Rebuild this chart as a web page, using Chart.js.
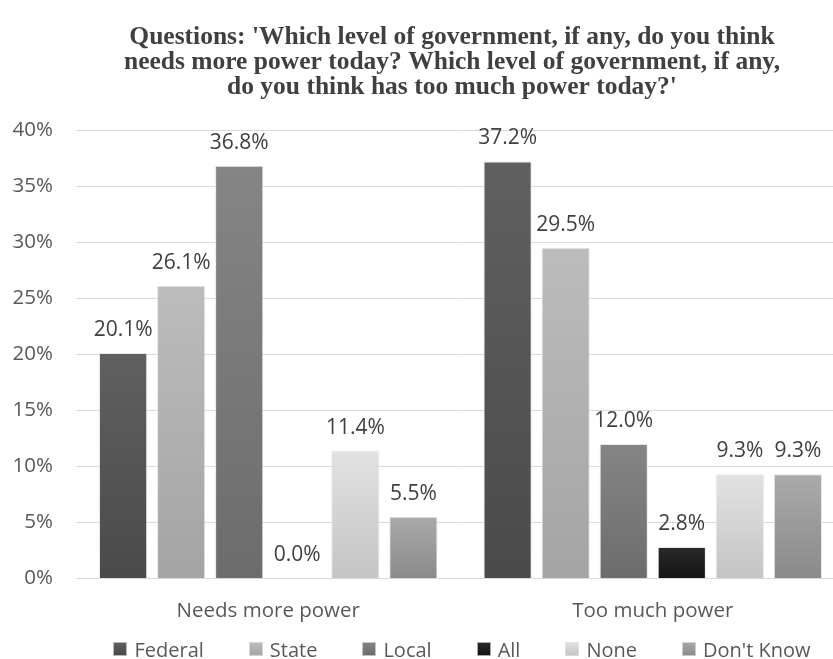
<!DOCTYPE html>
<html>
<head>
<meta charset="utf-8">
<script src="https://cdn.jsdelivr.net/npm/chart.js@4.4.0/dist/chart.umd.min.js"></script>
<style>
  html, body { margin: 0; padding: 0; background: #fff; overflow: hidden; }
  #wrap { position: relative; width: 833px; height: 659px; overflow: hidden; }
  /* the plot runs slightly past the right edge, as in the cropped original */
  #plot { position: absolute; left: 0; top: 0; width: 845px; height: 659px; }
  #legend {
    position: absolute; left: 0; width: 833px; top: 636px; height: 26px;
    display: flex; justify-content: center; align-items: center;
    font: 20px "Open Sans", sans-serif; color: #595959;
    padding-left: 91px; box-sizing: border-box;
  }
  #legend .item { display: flex; align-items: center; margin-right: 45px; white-space: nowrap; }
  #legend .item:last-child { margin-right: 0; }
  #legend .box { width: 14px; height: 14px; margin-right: 7px; box-shadow: inset 0 0 0 1px rgba(228,228,228,0.7); }
</style>
</head>
<body>
<div id="wrap"><div id="plot"><canvas id="chart"></canvas></div><div id="legend"></div></div>
<script>
const categories = ['Needs more power', 'Too much power'];
const seriesNames = ['Federal', 'State', 'Local', 'All', 'None', "Don't Know"];
const federal = [20.1, 37.2];
const state = [26.1, 29.5];
const local = [36.8, 12.0];
const all = [0.0, 2.8];
const none = [11.4, 9.3];
const dontKnow = [5.5, 9.3];
const yMax = 40;
const yStep = 5;
const titleLines = [
    "Questions: 'Which level of government, if any, do you think",
    "needs more power today? Which level of government, if any,",
    "do you think has too much power today?'"
];

const sans = '"Open Sans", sans-serif';
// top and bottom tone of each series' shading
const shades = [
    ['#606060', '#4a4a4a'],
    ['#bcbcbc', '#a4a4a4'],
    ['#858585', '#6c6c6c'],
    ['#2a2a2a', '#141414'],
    ['#e2e2e2', '#c4c4c4'],
    ['#aaaaaa', '#8a8a8a']
];

// each bar gets a light-to-dark vertical shade, like the office original
function shade(top, bottom) {
    return (context) => {
        const chart = context.chart;
        const y = chart.scales && chart.scales.y;
        if (!y || !chart.chartArea || context.raw === undefined) return bottom;
        const y0 = y.getPixelForValue(0);
        let y1 = y.getPixelForValue(context.raw);
        if (y0 - y1 < 1) y1 = y0 - 1;
        const g = chart.ctx.createLinearGradient(0, y1, 0, y0);
        g.addColorStop(0, top);
        g.addColorStop(1, bottom);
        return g;
    };
}

const titlePlugin = {
    id: 'topTitle',
    afterDraw(chart) {
        const ctx = chart.ctx;
        ctx.save();
        ctx.font = 'bold 25.5px "Liberation Serif", serif';
        ctx.fillStyle = '#404040';
        ctx.textAlign = 'center';
        ctx.textBaseline = 'middle';
        titleLines.forEach((line, i) => ctx.fillText(line, 452, 37 + i * 25));
        ctx.restore();
    }
};

const valueLabels = {
    id: 'valueLabels',
    afterDatasetsDraw(chart) {
        const ctx = chart.ctx;
        ctx.save();
        ctx.font = '21px ' + sans;
        ctx.fillStyle = '#404040';
        ctx.textAlign = 'center';
        ctx.textBaseline = 'alphabetic';
        chart.data.datasets.forEach((ds, i) => {
            chart.getDatasetMeta(i).data.forEach((bar, j) => {
                ctx.fillText(ds.data[j].toFixed(1) + '%', bar.x, bar.y - 17);
            });
        });
        ctx.restore();
    }
};

const seriesData = [federal, state, local, all, none, dontKnow];

const chart = new Chart(document.getElementById('chart').getContext('2d'), {
    type: 'bar',
    data: {
        labels: categories,
        datasets: seriesNames.map((name, i) => ({
            label: name,
            data: seriesData[i],
            backgroundColor: shade(shades[i][0], shades[i][1]),
            borderColor: 'rgba(228, 228, 228, 0.9)',
            borderWidth: 1,
            barPercentage: 0.83,
            categoryPercentage: 0.906
        }))
    },
    options: {
        responsive: true,
        maintainAspectRatio: false,
        animation: false,
        layout: { padding: { top: 130, left: 12, right: 0, bottom: 16 } },
        scales: {
            x: {
                grid: { display: false, drawTicks: false },
                border: { color: '#d9d9d9', width: 1 },
                ticks: { color: '#595959', font: { family: sans, size: 20.5 }, padding: 20 }
            },
            y: {
                min: 0,
                max: yMax,
                afterFit: scale => { scale.width = 64; },
                ticks: {
                    stepSize: yStep,
                    color: '#595959',
                    font: { family: sans, size: 20.5 },
                    padding: 23,
                    callback: v => v + '%'
                },
                grid: { color: '#d9d9d9', lineWidth: 1, drawTicks: false },
                border: { display: false }
            }
        },
        plugins: {
            legend: { display: false },
            title: { display: false },
            tooltip: { enabled: false }
        }
    },
    plugins: [titlePlugin, valueLabels]
});

// Legend
const legendEl = document.getElementById('legend');
chart.data.datasets.forEach((ds, i) => {
    const item = document.createElement('span');
    item.className = 'item';
    item.innerHTML = `<span class="box" style="background:linear-gradient(${shades[i][0]}, ${shades[i][1]})"></span>${ds.label}`;
    legendEl.appendChild(item);
});
</script>
</body>
</html>
